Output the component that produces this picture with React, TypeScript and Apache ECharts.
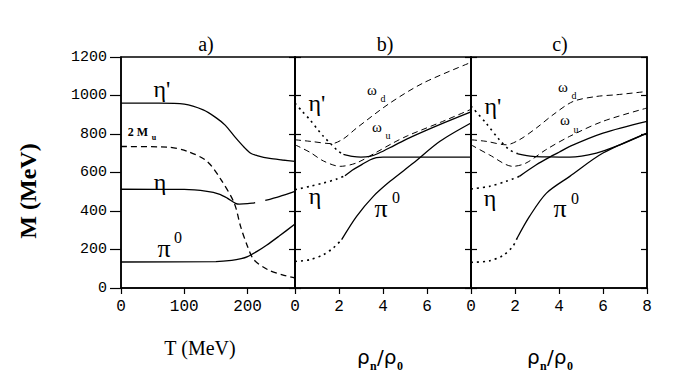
import React, { useEffect, useRef } from "react";
import * as echarts from "echarts";

// ---- data ----
// Panel a): M vs T (MeV)
const etaPrimeA = [[0, 960], [60, 960], [100, 955], [130, 925], [150, 885], [165, 845], [180, 785], [195, 730], [205, 700], [215, 688], [235, 673], [255, 665], [275, 658]];
const twoMuA = [[0, 735], [73, 732], [105, 710], [136, 658], [158, 563], [179, 441], [189, 320], [200, 216], [210, 147], [232, 95], [255, 68], [275, 52]];
const etaA = [[0, 513], [100, 512], [136, 502], [155, 488], [168, 467], [181, 440], [187, 436], [200, 438], [212, 443], [220, "-"], [228, 455], [250, 475], [275, 502]];
const piA = [[0, 135], [150, 137], [175, 143], [190, 152], [200, 163], [215, 190], [230, 222], [250, 270], [275, 332]];

// Panel b): M vs rho_n / rho_0
const etaPrimeDotB = [[0, 960], [0.35, 915], [0.68, 874], [1.0, 828], [1.29, 788], [1.67, 744], [1.95, 712], [2.2, 694]];
const etaPrimeB = [[2.2, 694], [2.6, 684], [3.0, 680], [3.4, 684], [3.8, 700], [4.5, 740], [5.1, 775], [6.6, 850], [8, 915]];
const etaDotB = [[0, 511], [0.68, 528], [1.29, 545], [1.9, 566], [2.27, 583]];
const etaB = [[2.27, 583], [2.6, 612], [3.05, 642], [3.4, 665], [3.7, 677], [4.0, 680], [8, 680]];
const piDotB = [[0, 138], [0.68, 147], [1.29, 173], [1.74, 208], [2.12, 251]];
const piB = [[2.12, 251], [2.8, 372], [3.56, 476], [4.32, 554], [5.38, 649], [6.59, 762], [8, 857]];
const omegaDB = [[0, 770], [0.68, 762], [1.67, 750], [2.2, 775], [2.8, 831], [4.32, 961], [5.83, 1065], [8, 1172]];
const omegaUB = [[0, 744], [0.68, 705], [1.29, 660], [2.05, 632], [2.8, 650], [3.7, 705], [4.4, 750], [5.1, 790], [6.6, 860], [8, 928]];

// Panel c): M vs rho_n / rho_0
const omegaDC = [[0, 770], [0.68, 762], [1.6, 744], [2.2, 770], [2.97, 831], [3.73, 900], [4.64, 969], [5.7, 995], [6.62, 1004], [8, 1021]];
const omegaUC = [[0, 744], [0.83, 692], [1.9, 632], [2.5, 649], [3.4, 718], [4.49, 788], [6, 866], [8, 935]];
const etaPrimeDotC = [[0, 945], [0.68, 857], [1.29, 770], [1.75, 718], [2.13, 697]];
const etaPrimeC = [[2.13, 697], [2.81, 684], [3.58, 681], [4.49, 680], [5.7, 701], [6.77, 744], [8, 805]];
const etaDotC = [[0, 514], [0.83, 528], [1.6, 554], [2.2, 580]];
const etaC = [[2.2, 580], [2.97, 640], [3.58, 680], [4.0, 705], [4.49, 736], [6, 805], [8, 866]];
const piDotC = [[0, 133], [0.83, 141], [1.44, 168], [1.9, 216], [2.1, 260]];
const piC = [[2.1, 260], [2.66, 372], [3.43, 493], [4.49, 580], [6, 701], [8, 805]];

// axes
const xMax = [275, 8, 8];
const xInterval = [100, 2, 2];
const yMin = 0;
const yMax = 1200;
const yInterval = 200;
const panelTitles = ["a)", "b)", "c)"];

const SERIF = "Liberation Serif";
const MONO = "Liberation Mono";
const SANS = "DejaVu Sans";

const gridBoxes = [
  { left: 121, width: 174 },
  { left: 295, width: 176 },
  { left: 471, width: 176 },
];
const TOP = 57;
const HEIGHT = 231;

type Style = "solid" | "dash" | "dot";
function line(data: any[], idx: number, style: Style, width = 1.3) {
  let type: any = "solid";
  if (style === "dash") type = [6, 4];
  if (style === "dot") type = [2, 4];
  return {
    type: "line",
    xAxisIndex: idx,
    yAxisIndex: idx * 2,
    data,
    showSymbol: false,
    smooth: 0.3,
    connectNulls: false,
    silent: true,
    lineStyle: { color: "#000", width: style === "dot" ? 1.6 : width, type },
  };
}

function txt(x: number, y: number, text: string, size: number, family = SERIF, weight: any = "normal", align = "center") {
  return {
    type: "text",
    x,
    y,
    silent: true,
    style: {
      text,
      fontSize: size,
      fontFamily: family,
      fontWeight: weight,
      fill: "#000",
      align,
      verticalAlign: "middle",
    },
  };
}

export default function App() {
  const ref = useRef<HTMLDivElement>(null);
  useEffect(() => {
    if (!ref.current) return;
    const chart = echarts.init(ref.current, undefined, { renderer: "svg" });
    const axisLine = { lineStyle: { color: "#000", width: 1.5 } };

    const grids = gridBoxes.map((g) => ({
      left: g.left,
      width: g.width,
      top: TOP,
      height: HEIGHT,
      show: true,
      borderColor: "#000",
      borderWidth: 1.5,
      backgroundColor: "transparent",
    }));

    const xAxes = [0, 1, 2].map((i) => ({
      type: "value",
      gridIndex: i,
      min: 0,
      max: xMax[i],
      interval: xInterval[i],
      axisLine,
      axisTick: { show: true, length: 6, lineStyle: { color: "#000", width: 1.2 } },
      axisLabel: {
        color: "#000",
        fontFamily: MONO,
        fontSize: 16,
        margin: 11,
        showMinLabel: true,
        showMaxLabel: i === 2,
        formatter: (v: number) => (v % xInterval[i] === 0 ? String(v) : ""),
      },
      splitLine: { show: false },
    }));

    const yAxes: any[] = [];
    [0, 1, 2].forEach((i) => {
      yAxes.push({
        type: "value",
        gridIndex: i,
        position: "left",
        min: yMin,
        max: yMax,
        interval: yInterval,
        axisLine,
        axisTick: { show: true, inside: i !== 0, length: i === 0 ? 11 : 6, lineStyle: { color: "#000", width: 1.2 } },
        axisLabel: {
          show: i === 0,
          color: "#000",
          fontFamily: MONO,
          fontSize: 15,
          margin: 14,
          formatter: (v: number) => String(v),
        },
        splitLine: { show: false },
      });
      yAxes.push({
        type: "value",
        gridIndex: i,
        position: "right",
        min: yMin,
        max: yMax,
        interval: yInterval,
        axisLine,
        axisTick: { show: true, inside: true, length: 6, lineStyle: { color: "#000", width: 1.2 } },
        axisLabel: { show: false },
        splitLine: { show: false },
      });
    });

    const series = [
      line(etaPrimeA, 0, "solid"),
      line(twoMuA, 0, "dash", 1.3),
      line(etaA, 0, "solid"),
      line(piA, 0, "solid"),

      line(etaPrimeDotB, 1, "dot"),
      line(etaPrimeB, 1, "solid"),
      line(etaDotB, 1, "dot"),
      line(etaB, 1, "solid"),
      line(piDotB, 1, "dot"),
      line(piB, 1, "solid"),
      line(omegaDB, 1, "dash", 1),
      line(omegaUB, 1, "dash", 1),

      line(etaPrimeDotC, 2, "dot"),
      line(etaPrimeC, 2, "solid"),
      line(etaDotC, 2, "dot"),
      line(etaC, 2, "solid"),
      line(piDotC, 2, "dot"),
      line(piC, 2, "solid"),
      line(omegaDC, 2, "dash", 1),
      line(omegaUC, 2, "dash", 1),
    ];

    const graphic: any[] = [
      // panel titles
      txt(206, 44, panelTitles[0], 20),
      txt(385, 44, panelTitles[1], 20),
      txt(560, 44, panelTitles[2], 20),
      // y-axis name
      {
        type: "text",
        x: 28,
        y: 191,
        rotation: Math.PI / 2,
        silent: true,
        style: {
          text: "M (MeV)",
          fontSize: 24,
          fontFamily: SERIF,
          fontWeight: "bold",
          fill: "#000",
          align: "center",
          verticalAlign: "middle",
        },
      },
      // x-axis names
      txt(200, 348, "T (MeV)", 20),
      txt(357, 357, "ρ", 20, SANS, "normal", "left"),
      txt(370, 366, "n", 12, SERIF, "bold", "left"),
      txt(377, 357, "/ρ", 20, SANS, "normal", "left"),
      txt(397, 366, "0", 12, SERIF, "bold", "left"),
      txt(527, 357, "ρ", 20, SANS, "normal", "left"),
      txt(540, 366, "n", 12, SERIF, "bold", "left"),
      txt(547, 357, "/ρ", 20, SANS, "normal", "left"),
      txt(567, 366, "0", 12, SERIF, "bold", "left"),
      // panel a labels
      txt(162, 89, "η'", 24),
      txt(138, 132, "2 M", 12, SERIF, "bold"),
      txt(154, 137, "u", 8, SERIF, "bold"),
      txt(160, 182, "η", 24),
      txt(164, 248, "π", 26),
      txt(178, 237, "0", 16),
      // panel b labels
      txt(317, 103, "η'", 24),
      txt(372, 90, "ω", 15),
      txt(383, 98, "d", 10),
      txt(377, 127, "ω", 15),
      txt(388, 135, "u", 10),
      txt(315, 196, "η", 24),
      txt(381, 208, "π", 26),
      txt(396, 197, "0", 16),
      // panel c labels
      txt(493, 106, "η'", 24),
      txt(563, 87, "ω", 15),
      txt(574, 95, "d", 10),
      txt(565, 120, "ω", 15),
      txt(576, 129, "u", 10),
      txt(490, 198, "η", 24),
      txt(560, 208, "π", 26),
      txt(575, 198, "0", 16),
    ];

    chart.setOption({
      animation: false,
      backgroundColor: "#fff",
      grid: grids,
      xAxis: xAxes,
      yAxis: yAxes,
      series,
      graphic,
    });
    return () => chart.dispose();
  }, []);
  return <div ref={ref} style={{ position: "absolute", left: 0, top: 0, width: 681, height: 382, background: "#fff" }} />;
}
